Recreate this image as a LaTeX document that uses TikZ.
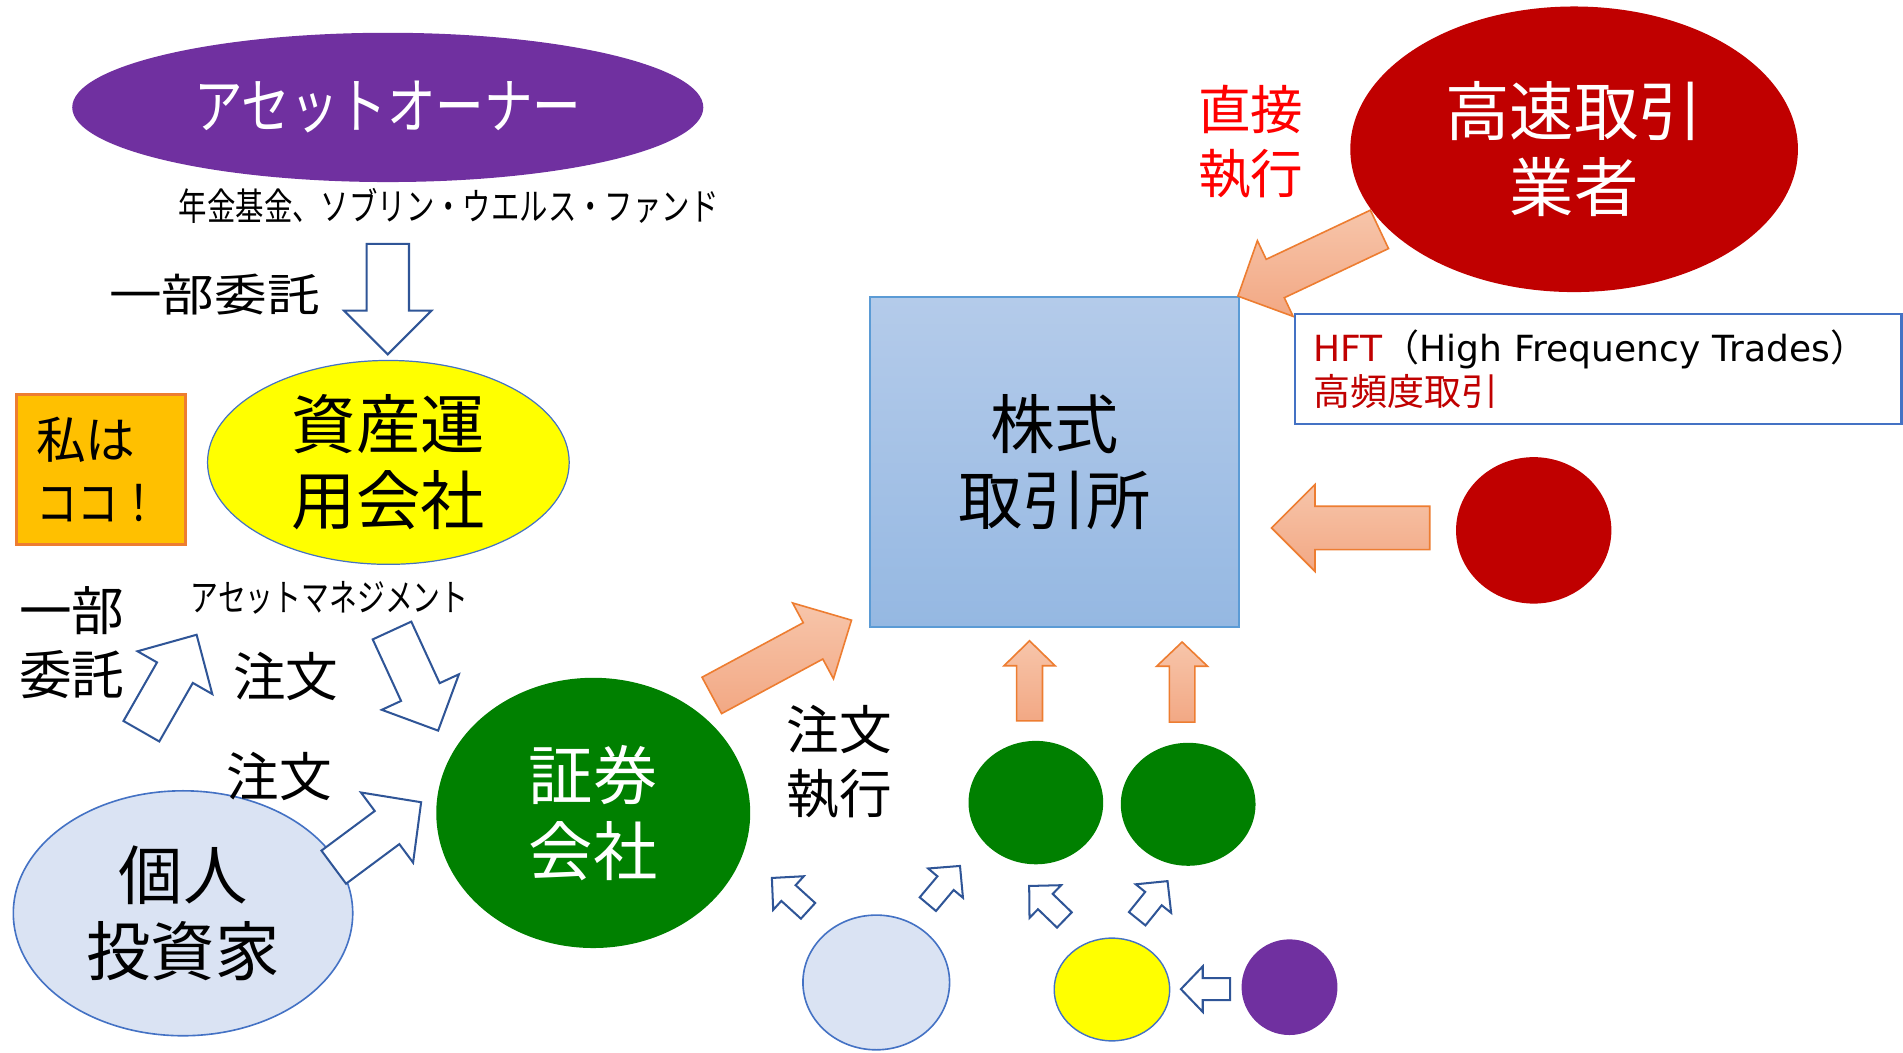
\documentclass[tikz,border=0pt]{standalone}
\usepackage{fontspec}
\setmainfont{Noto Sans CJK JP}
\newfontfamily\dejavu{DejaVu Sans}
\usepackage{graphicx}
\usetikzlibrary{calc,shapes.geometric}

\definecolor{aopurple}{HTML}{7030A0}
\definecolor{yel}{HTML}{FFFF00}
\definecolor{bord}{HTML}{4472C4}
\definecolor{grn}{HTML}{008000}
\definecolor{dred}{HTML}{C00000}
\definecolor{lblue}{HTML}{DAE3F3}
\definecolor{obox}{HTML}{FFC000}
\definecolor{oline}{HTML}{ED7D31}
\definecolor{exa}{RGB}{180,203,234}
\definecolor{exb}{RGB}{149,184,226}
\definecolor{exline}{HTML}{5B9BD5}
\definecolor{ofa}{RGB}{247,197,170}
\definecolor{ofb}{RGB}{242,168,132}
\definecolor{hblue}{HTML}{2F5597}
\definecolor{rtxt}{HTML}{FF0000}

% block arrow: start, end (coordinate names), shaft width, head width, head length (px), style
\newcommand\barrow[6]{%
  \coordinate (bn) at ($(#2)!{#5*0.6pt}!(#1)$);
  \path[#6] ($(#1)!{#3*0.3pt}!90:(#2)$) -- ($(bn)!{#3*0.3pt}!90:(#2)$)
    -- ($(bn)!{#4*0.3pt}!90:(#2)$) -- (#2) -- ($(bn)!{#4*0.3pt}!-90:(#2)$)
    -- ($(bn)!{#3*0.3pt}!-90:(#2)$) -- ($(#1)!{#3*0.3pt}!-90:(#2)$) -- cycle;
}

\begin{document}
\begin{tikzpicture}[x=0.6pt,y=-0.6pt,
  every node/.style={inner sep=0pt},
  ell/.style={ellipse, inner sep=0pt},
  big/.style={font=\fontsize{31.8pt}{37.8pt}\selectfont, align=center},
  med/.style={font=\fontsize{26pt}{31.6pt}\selectfont, align=center},
  sml/.style={font=\fontsize{18.6pt}{22pt}\selectfont},
  harrow/.style={draw=hblue, line width=1pt, fill=white, line join=miter},
  oarrow/.style={draw=oline, line width=0.8pt, top color=ofa, bottom color=ofb, line join=miter}]
\useasboundingbox (0,0) rectangle (1568,867);

% main shapes
\node[ell, fill=aopurple, minimum width=312pt, minimum height=73.8pt, text=white,
      font=\fontsize{30pt}{36pt}\selectfont] (ao) at (319.5,88.5) {\scalebox{0.8}[1]{アセットオーナー}};
\node[ell, fill=yel, draw=bord, line width=0.6pt, minimum width=178.8pt, minimum height=100.8pt, big]
      (amc) at (320,381) {資産運\\用会社};
\node[draw=oline, line width=1.6pt, fill=obox, minimum width=83.6pt, minimum height=74.2pt] (me) at (83,386.9) {};
\node[font=\fontsize{24.6pt}{31.5pt}\selectfont, align=left, anchor=west] (metext) at (29.5,386.9) {私は\\\scalebox{0.83}[1]{ココ！}};
\node[ell, fill=lblue, draw=bord, line width=0.8pt, minimum width=167.8pt, minimum height=121.1pt, big]
      (ind) at (150.8,752.5) {個人\\投資家};
\node[ell, fill=grn, minimum width=155.2pt, minimum height=133.6pt, big, text=white]
      (sec) at (488.8,669.8) {証券\\会社};
\node[rectangle, draw=exline, line width=0.8pt, top color=exa, bottom color=exb,
      minimum width=182.4pt, minimum height=163pt, big] (tse) at (869,380.8) {株式\\取引所};
\node[ell, fill=dred, minimum width=221.3pt, minimum height=141.2pt, big, text=white]
      (hft) at (1297,123) {高速取引\\業者};
\node[ell, fill=dred, minimum width=76.8pt, minimum height=72.4pt] (hfts) at (1263.7,437) {};
\node[ell, fill=grn, minimum width=66.6pt, minimum height=61pt] (g1) at (853.5,661.3) {};
\node[ell, fill=grn, minimum width=66.6pt, minimum height=60.8pt] (g2) at (979,662.7) {};
\node[ell, fill=lblue, draw=bord, line width=0.8pt, minimum width=72.5pt, minimum height=66.6pt] (lb) at (722,809.5) {};
\node[ell, fill=yel, draw=bord, line width=0.7pt, minimum width=57.1pt, minimum height=50.8pt] (ys) at (916.2,815.3) {};
\node[ell, fill=aopurple, minimum width=47.4pt, minimum height=47.3pt] (ps) at (1062.5,813.4) {};

% arrow end points
\coordinate (a1s) at (319.5,201);   \coordinate (a1e) at (319.5,292);
\coordinate (a2s) at (116.5,602.5); \coordinate (a2e) at (162,523);
\coordinate (a3s) at (323,519.5);   \coordinate (a3e) at (361,602);
\coordinate (a4s) at (275,714.5);   \coordinate (a4e) at (347,661);
\coordinate (e1s) at (665.8,750.5); \coordinate (e1e) at (636,723.4);
\coordinate (e2s) at (764.5,745);   \coordinate (e2e) at (791,713.5);
\coordinate (e3s) at (877,758);     \coordinate (e3e) at (848,730);
\coordinate (e4s) at (937,757);     \coordinate (e4e) at (962,726);
\coordinate (e5s) at (1013.6,815);  \coordinate (e5e) at (973,815);
\coordinate (f1s) at (586.5,573);   \coordinate (f1e) at (701.6,511);
\coordinate (f2s) at (1136.6,189);  \coordinate (f2e) at (1020,244);
\coordinate (f3s) at (1178,435);    \coordinate (f3e) at (1047.7,435);
\coordinate (f4s) at (848.3,594);   \coordinate (f4e) at (848.3,528);
\coordinate (f5s) at (974,595);     \coordinate (f5e) at (974,529);

% hollow arrows
\barrow{a1s}{a1e}{35}{72}{36}{harrow}
\barrow{a2s}{a2e}{34}{71}{36}{harrow}
\barrow{a3s}{a3e}{35}{70}{35}{harrow}
\barrow{a4s}{a4e}{34}{72}{35}{harrow}
\barrow{e1s}{e1e}{17.5}{37.5}{18.5}{harrow}
\barrow{e2s}{e2e}{17.5}{37.5}{18.5}{harrow}
\barrow{e3s}{e3e}{17.5}{37.5}{18.5}{harrow}
\barrow{e4s}{e4e}{17.5}{37.5}{18.5}{harrow}
\barrow{e5s}{e5e}{18}{37.5}{18}{harrow}

% orange arrows
\barrow{f1s}{f1e}{34}{71}{36}{oarrow}
\barrow{f2s}{f2e}{35}{69}{34}{oarrow}
\barrow{f3s}{f3e}{35.7}{71.6}{35.8}{oarrow}
\barrow{f4s}{f4e}{21.3}{42}{20.5}{oarrow}
\barrow{f5s}{f5e}{21}{42}{20}{oarrow}

% HFT box
\node[draw=bord, line width=1.1pt, fill=white, minimum width=299.8pt, minimum height=54.4pt,
      text width=281.8pt, align=left, inner xsep=9pt, font=\fontsize{18.3pt}{21.6pt}\selectfont]
      (hftbox) at (1316.9,304.1)
      {{\color{dred}\fontsize{17.8pt}{21.6pt}\dejavu HFT}（{\fontsize{17.8pt}{21.6pt}\dejavu High Frequency Trades}）\\{\color{dred}高頻度取引}};

% free texts
\node[sml] (nenkin) at (369.7,170) {\scalebox{0.755}[1]{年金基金、ソブリン・ウエルス・ファンド}};
\node[med] (itaku1) at (176.8,242.8) {\scalebox{1}[0.85]{一部委託}};
\node[med] (itaku2) at (59,529.3) {一部\\委託};
\node[sml] (amgmt) at (271.6,492.6) {\scalebox{0.74}[1]{アセットマネジメント}};
\node[med] (chu1) at (235.4,557.3) {注文};
\node[med] (chu2) at (230.3,640) {注文};
\node[med] (exe) at (691.7,627.7) {注文\\執行};
\node[med, text=rtxt] (direct) at (1030.5,116.6) {直接\\執行};
\end{tikzpicture}
\end{document}
